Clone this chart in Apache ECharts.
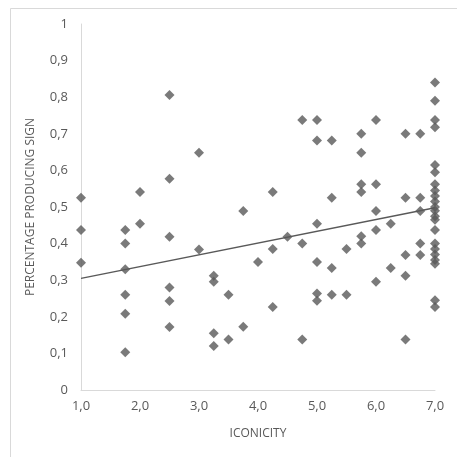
<!DOCTYPE html>
<html><head><meta charset="utf-8">
<script src="https://cdn.jsdelivr.net/npm/echarts@6/dist/echarts.min.js"></script>
<style>html,body{margin:0;padding:0;background:#fff;}#c{width:457px;height:457px;}</style>
</head><body><div id="c"></div>
<script>
const iconicity = [
  1.0,1.0,1.0,
  1.75,1.75,1.75,1.75,1.75,1.75,
  2.0,2.0,
  2.5,2.5,2.5,2.5,2.5,2.5,
  3.0,3.0,
  3.25,3.25,3.25,3.25,
  3.5,3.5,
  3.75,3.75,
  4.0,
  4.25,4.25,4.25,
  4.5,
  4.75,4.75,4.75,
  5.0,5.0,5.0,5.0,5.0,5.0,
  5.25,5.25,5.25,5.25,
  5.5,5.5,
  5.75,5.75,5.75,5.75,5.75,5.75,
  6.0,6.0,6.0,6.0,6.0,
  6.25,6.25,
  6.5,6.5,6.5,6.5,6.5,
  6.75,6.75,6.75,6.75,6.75,
  7.0,7.0,7.0,7.0,7.0,7.0,7.0,7.0,7.0,7.0,7.0,7.0,7.0,7.0,7.0,7.0,7.0,7.0,7.0,7.0,7.0,7.0
];
const percentage = [
  0.525,0.437,0.348,
  0.437,0.40,0.33,0.26,0.208,0.103,
  0.541,0.454,
  0.806,0.577,0.419,0.28,0.243,0.172,
  0.648,0.384,
  0.312,0.296,0.155,0.12,
  0.26,0.138,
  0.489,0.173,
  0.35,
  0.541,0.385,0.227,
  0.419,
  0.738,0.40,0.138,
  0.738,0.682,0.454,0.35,0.264,0.244,
  0.682,0.525,0.333,0.26,
  0.385,0.26,
  0.70,0.648,0.562,0.541,0.42,0.40,
  0.738,0.562,0.489,0.437,0.296,
  0.454,0.333,
  0.70,0.525,0.369,0.312,0.138,
  0.70,0.525,0.489,0.40,0.369,
  0.84,0.79,0.738,0.718,0.615,0.595,0.562,0.545,0.53,0.515,0.50,0.49,0.475,0.465,0.437,0.40,0.385,0.37,0.355,0.345,0.245,0.227
];
const trendX = [1.0, 7.0];
const trendY = [0.305, 0.498];
const xTitle = 'ICONICITY';
const yTitle = 'PERCENTAGE PRODUCING SIGN';

const points = iconicity.map((x, i) => [x, percentage[i]]);
const trend = trendX.map((x, i) => [x, trendY[i]]);
const txt = '#595959';
const font = '"Open Sans", "Liberation Sans", sans-serif';

const chart = echarts.init(document.getElementById('c'));
chart.setOption({
  animation: false,
  backgroundColor: '#fff',
  graphic: [{
    type: 'rect', left: 8, top: 6,
    shape: { width: 460, height: 460 },
    style: { fill: 'none', stroke: '#d9d9d9', lineWidth: 1 }
  }],
  grid: { left: 81, right: 22, top: 24, bottom: 67 },
  xAxis: {
    type: 'value', min: 1, max: 7, interval: 1,
    name: xTitle, nameLocation: 'middle', nameGap: 38,
    nameTextStyle: { color: txt, fontSize: 12, fontFamily: font },
    axisLine: { show: true, lineStyle: { color: '#d9d9d9', width: 1 } },
    axisTick: { show: false },
    splitLine: { show: false },
    axisLabel: { color: txt, fontSize: 13, fontFamily: font, margin: 10,
      formatter: v => v.toFixed(1).replace('.', ',') }
  },
  yAxis: {
    type: 'value', min: 0, max: 1, interval: 0.1,
    name: yTitle, nameLocation: 'middle', nameGap: 44, nameRotate: 90,
    nameTextStyle: { color: txt, fontSize: 12, fontFamily: font },
    axisLine: { show: true, lineStyle: { color: '#d9d9d9', width: 1 } },
    axisTick: { show: false },
    splitLine: { show: false },
    axisLabel: { color: txt, fontSize: 13, fontFamily: font, margin: 13,
      formatter: v => (Math.round(v * 10) / 10).toString().replace('.', ',') }
  },
  series: [{
    type: 'scatter', data: points, symbol: 'diamond', symbolSize: 10,
    itemStyle: { color: '#595959' }, z: 3
  }, {
    type: 'line', data: trend, symbol: 'none',
    lineStyle: { color: '#595959', width: 1.5 }, z: 2
  }]
});
</script></body></html>
